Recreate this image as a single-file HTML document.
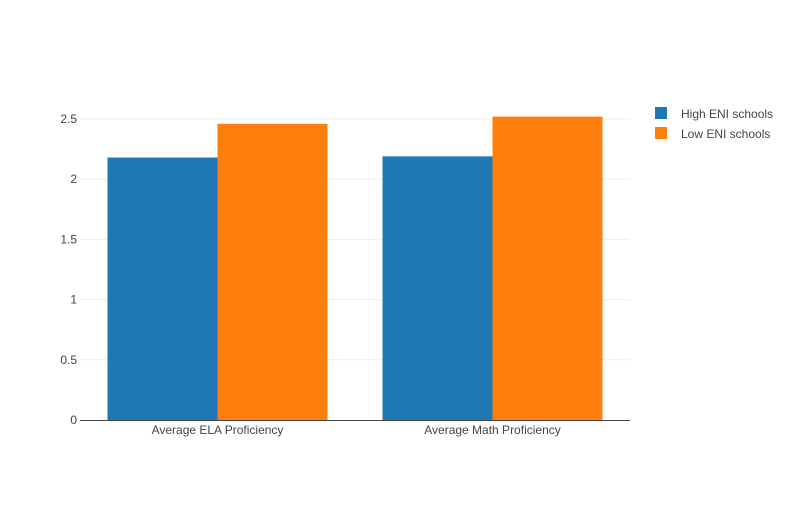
<!DOCTYPE html>
<html><head><meta charset="utf-8"><style>
body{margin:0;background:#fff;font-family:"Liberation Sans",Arial,sans-serif}
svg text{font-family:"Liberation Sans",Arial,sans-serif;font-size:12px;fill:#444}
</style></head><body>
<svg id="chart" width="800" height="500">
<g id="grid"></g><g id="bars"></g><g id="axes"></g>
<g id="legend">
<g><rect x="655" y="107" width="12" height="12" fill="#1f77b4"/><text x="681" y="118">High ENI schools</text></g>
<g><rect x="655" y="127" width="12" height="12" fill="#ff7f0e"/><text x="681" y="138">Low ENI schools</text></g>
</g>
</svg>
<script>
const categories=["Average ELA Proficiency","Average Math Proficiency"];
const highENI=[2.18,2.19];
const lowENI=[2.46,2.52];
const yTicks=[0,0.5,1,1.5,2,2.5];
const yTickLabels=["0","0.5","1","1.5","2","2.5"];
const X0=80,X1=630,Y0=420,Y1=100,YMAX=2.658;
const ns="http://www.w3.org/2000/svg";
function y(v){return Y0-(v/YMAX)*(Y0-Y1);}
const band=(X1-X0)/categories.length;
function xc(i){return X0+band*(i+0.5);}
function mk(tag,attrs,parent){const e=document.createElementNS(ns,tag);for(const k in attrs)e.setAttribute(k,attrs[k]);document.getElementById(parent).appendChild(e);return e;}
yTicks.forEach((t,i)=>{
  if(t>0){const l=mk('line',{x1:X0,x2:X1,y1:y(t),y2:y(t),stroke:'#eee','stroke-width':1},'grid');
  
  }
  const tx=mk('text',{x:X0-3,y:y(t)+4,'text-anchor':'end'},'axes');tx.textContent=yTickLabels[i];
  
  
});
const bw=band*0.8/2;
[[highENI,'#1f77b4','high'],[lowENI,'#ff7f0e','low']].forEach((s,si)=>{
  s[0].forEach((v,i)=>{
    const x=xc(i)-band*0.4+si*bw;
    const r=mk('rect',{x:x,y:y(v),width:bw,height:Y0-y(v),fill:s[1]},'bars');
    
    
  });
});
categories.forEach((c,i)=>{
  const t=mk('text',{x:xc(i),y:Y0+14,'text-anchor':'middle'},'axes');t.textContent=c;
  
  
});
const ax=mk('line',{x1:X0,x2:X1,y1:Y0+0.5,y2:Y0+0.5,stroke:'#444','stroke-width':1},'axes');


</script>
</body></html>
